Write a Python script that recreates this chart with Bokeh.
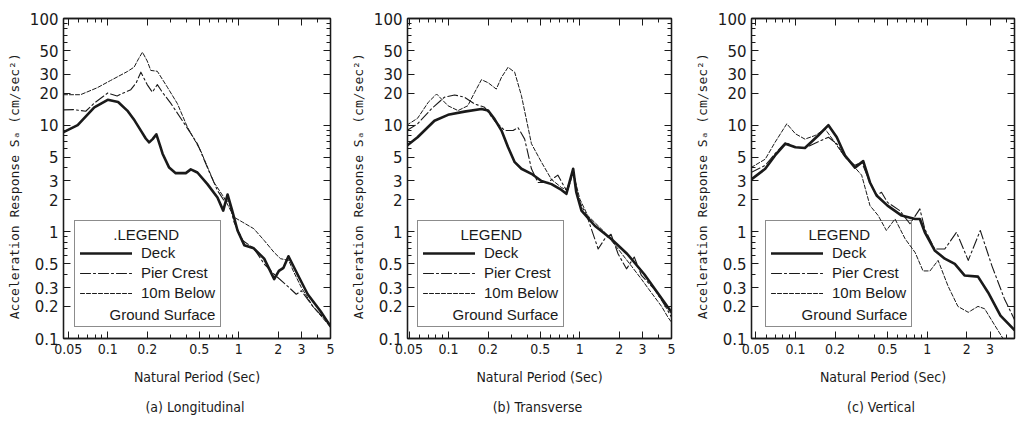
from bokeh.plotting import figure
from bokeh.layouts import row
from bokeh.models import (LogAxis, FixedTicker, CustomJSTickFormatter, Legend,
                          LegendItem, Title, Range1d, Label)
from bokeh.embed import file_html
from bokeh.resources import INLINE

# ---------------- data ----------------
series_names = ["Deck", "Pier Crest", "10m Below"]
legend_extra = "Ground Surface"

# (a) Longitudinal
a_deck_T = [0.046, 0.059, 0.079, 0.1, 0.12, 0.141, 0.16, 0.179, 0.195, 0.207, 0.22, 0.235, 0.25, 0.262,
            0.294, 0.33, 0.394, 0.43, 0.483, 0.576, 0.687, 0.76, 0.82, 0.89, 0.977, 1.1, 1.3, 1.56,
            1.86, 2.02, 2.19, 2.39, 2.8, 3.35, 4.2, 5.0]
a_deck_S = [8.6, 10.0, 14.7, 17.3, 16.5, 13.7, 11.1, 8.9, 7.5, 6.9, 7.4, 8.2, 6.5, 5.4,
            4.0, 3.55, 3.55, 3.85, 3.6, 2.8, 2.1, 1.58, 2.24, 1.58, 1.03, 0.75, 0.70, 0.56,
            0.36, 0.43, 0.46, 0.59, 0.40, 0.26, 0.18, 0.13]
a_pier_T = [0.046, 0.055, 0.068, 0.079, 0.1, 0.118, 0.15, 0.165, 0.179, 0.2, 0.219, 0.239, 0.26,
            0.303, 0.383, 0.483, 0.576, 0.687, 0.77, 0.84, 0.92, 1.07, 1.3, 1.56, 1.86, 2.35,
            2.74, 3.0, 3.7, 5.0]
a_pier_S = [13.9, 14.0, 13.5, 16.1, 20.0, 18.8, 21.5, 25.0, 31.4, 24.0, 20.4, 24.0, 20.5,
            16.0, 10.4, 6.7, 4.0, 2.44, 1.97, 1.93, 1.23, 0.83, 0.70, 0.50, 0.40, 0.31,
            0.26, 0.28, 0.197, 0.135]
a_below_T = [0.046, 0.062, 0.083, 0.105, 0.141, 0.159, 0.172, 0.184, 0.2, 0.213, 0.239, 0.285,
             0.34, 0.405, 0.51, 0.647, 0.77, 0.92, 1.07, 1.3, 1.56, 1.86, 2.08, 2.4, 2.6, 3.0,
             3.7, 5.0]
a_below_S = [19.3, 19.3, 22.4, 26.2, 31.8, 35.0, 42.0, 48.3, 40.0, 32.6, 32.0, 22.7,
             15.9, 9.6, 5.8, 2.9, 2.1, 1.37, 1.23, 1.07, 0.83, 0.64, 0.56, 0.54, 0.43, 0.30,
             0.197, 0.128]

# (b) Transverse
b_deck_T = [0.048, 0.058, 0.078, 0.099, 0.132, 0.178, 0.2, 0.224, 0.253, 0.284, 0.319, 0.359,
            0.428, 0.51, 0.608, 0.725, 0.79, 0.84, 0.89, 0.94, 1.03, 1.3, 1.73, 2.3, 3.1, 3.9, 5.0]
b_deck_S = [6.4, 7.7, 11.0, 12.5, 13.4, 14.2, 13.7, 11.4, 8.9, 6.2, 4.5, 3.9,
            3.5, 3.0, 2.8, 2.47, 2.27, 3.0, 3.9, 2.35, 1.58, 1.14, 0.86, 0.62, 0.40, 0.27, 0.176]
b_pier_T = [0.048, 0.058, 0.074, 0.093, 0.111, 0.132, 0.158, 0.188, 0.224, 0.268, 0.31, 0.338,
            0.38, 0.428, 0.48, 0.57, 0.68, 0.79, 0.84, 0.89, 0.97, 1.13, 1.3, 1.38, 1.55, 1.73,
            1.96, 2.27, 2.6, 2.95, 3.7, 4.5, 5.0]
b_pier_S = [8.9, 10.3, 14.2, 18.3, 19.2, 18.3, 15.8, 14.7, 11.0, 8.9, 8.9, 9.5,
            7.4, 3.9, 2.9, 2.9, 3.4, 2.45, 3.0, 3.9, 2.03, 1.42, 0.86, 0.69, 0.86, 0.95,
            0.62, 0.45, 0.58, 0.39, 0.29, 0.20, 0.158]
b_below_T = [0.048, 0.058, 0.07, 0.081, 0.099, 0.118, 0.14, 0.158, 0.178, 0.2, 0.231, 0.253,
             0.284, 0.319, 0.359, 0.428, 0.51, 0.608, 0.725, 0.81, 0.89, 1.0, 1.15, 1.55, 1.96,
             2.5, 2.95, 3.5, 4.2, 4.7, 5.0]
b_below_S = [10.0, 11.6, 16.4, 19.6, 15.2, 13.7, 15.2, 20.3, 26.7, 25.0, 21.8, 28.1,
             34.9, 31.3, 18.9, 6.7, 4.5, 3.1, 2.6, 2.45, 3.6, 2.03, 1.42, 0.99, 0.69,
             0.47, 0.36, 0.27, 0.20, 0.158, 0.142]

# (c) Vertical
c_deck_T = [0.046, 0.059, 0.07, 0.084, 0.1, 0.118, 0.149, 0.178, 0.206, 0.238, 0.283, 0.327,
            0.368, 0.413, 0.5, 0.64, 0.81, 0.88, 0.96, 1.14, 1.36, 1.62, 1.92, 2.43, 2.9, 3.6, 4.6]
c_deck_S = [3.08, 3.9, 5.2, 6.7, 6.2, 6.1, 8.0, 10.0, 7.7, 5.2, 4.0, 4.6,
            2.9, 2.19, 1.76, 1.42, 1.32, 1.32, 0.99, 0.67, 0.56, 0.50, 0.39, 0.38, 0.27, 0.164, 0.12]
c_pier_T = [0.046, 0.059, 0.07, 0.084, 0.1, 0.118, 0.149, 0.178, 0.206, 0.238, 0.283, 0.318,
            0.368, 0.413, 0.45, 0.5, 0.62, 0.74, 0.88, 0.96, 1.14, 1.36, 1.67, 2.05, 2.53, 3.1,
            3.86, 4.6]
c_pier_S = [3.6, 4.2, 5.4, 6.9, 6.2, 6.1, 7.0, 7.7, 6.7, 5.0, 4.2, 4.5,
            2.9, 2.2, 2.35, 1.89, 1.58, 1.19, 1.64, 1.06, 0.69, 0.69, 0.99, 0.54, 1.03, 0.48,
            0.235, 0.15]
c_below_T = [0.046, 0.059, 0.07, 0.086, 0.1, 0.118, 0.141, 0.168, 0.194, 0.238, 0.283, 0.318,
             0.368, 0.425, 0.49, 0.57, 0.68, 0.81, 0.93, 1.05, 1.21, 1.44, 1.71, 2.05, 2.43,
             2.73, 3.27, 3.86]
c_below_S = [4.0, 4.8, 6.9, 10.3, 8.3, 7.4, 8.0, 9.2, 7.2, 5.0, 4.0, 3.4,
             1.76, 1.42, 1.03, 1.32, 0.86, 0.64, 0.43, 0.43, 0.54, 0.31, 0.20, 0.176, 0.20,
             0.19, 0.132, 0.095]

x_major = [0.05, 0.1, 0.2, 0.5, 1, 2, 3, 5]
x_minor = [0.04, 0.06, 0.07, 0.08, 0.09, 0.3, 0.4, 0.6, 0.7, 0.8, 0.9, 4]
y_major = [0.1, 0.2, 0.3, 0.5, 1, 2, 3, 5, 10, 20, 30, 50, 100]
y_minor = [0.4, 0.6, 0.7, 0.8, 0.9, 4, 6, 7, 8, 9, 40, 60, 70, 80, 90]

NB = "\u00a0"
panels = [
    dict(caption="(a)  Longitudinal", legend_title=NB * 8 + ".LEGEND", xr=(0.046, 5.0), fw=267, mbr=14,
         loc=(11, 11), gs_x=46,
         data=[(a_deck_T, a_deck_S), (a_pier_T, a_pier_S), (a_below_T, a_below_S)]),
    dict(caption="(b)  Transverse", legend_title=NB * 9 + "LEGEND", xr=(0.0486, 5.0), fw=264, mbr=17,
         loc=(10, 11), gs_x=45,
         data=[(b_deck_T, b_deck_S), (b_pier_T, b_pier_S), (b_below_T, b_below_S)]),
    dict(caption="(c)  Vertical", legend_title=NB * 9 + "LEGEND", xr=(0.0464, 4.6), fw=263, mbr=2,
         loc=(14, 11), gs_x=50,
         data=[(c_deck_T, c_deck_S), (c_pier_T, c_pier_S), (c_below_T, c_below_S)]),
]

INK = "#1a1a1a"
styles = [dict(line_width=2.6, line_dash="solid"),
          dict(line_width=1.1, line_dash="10 3 2 3"),
          dict(line_width=1.0, line_dash="4 2")]

NARROW = "'Liberation Sans Narrow', 'DejaVu Sans Condensed', 'Roboto Condensed', sans-serif"
LEGFONT = "Liberation Sans"
fmt = CustomJSTickFormatter(code="return tick.toString();")
blank = CustomJSTickFormatter(code="return '';")


def style_axis(ax, major, minor, labels=True):
    ax.ticker = FixedTicker(ticks=major, minor_ticks=minor)
    ax.axis_line_color = INK
    ax.axis_line_width = 1.3
    ax.major_tick_line_color = INK
    ax.minor_tick_line_color = INK
    ax.major_tick_in = 7
    ax.major_tick_out = 0
    ax.minor_tick_in = 4
    ax.minor_tick_out = 0
    if labels:
        ax.formatter = fmt
    else:
        ax.formatter = blank
        ax.major_label_text_font_size = "0px"
        ax.major_label_standoff = 0


figs = []
for pan in panels:
    p = figure(x_axis_type="log", y_axis_type="log",
               x_range=Range1d(*pan["xr"]), y_range=Range1d(0.1, 100),
               frame_width=pan["fw"], frame_height=320,
               min_border_left=63, min_border_right=pan["mbr"],
               min_border_top=18, min_border_bottom=90,
               output_backend="svg", toolbar_location=None)
    p.grid.visible = False
    p.outline_line_color = INK
    p.outline_line_width = 1.3
    p.background_fill_color = "white"
    p.border_fill_color = "white"

    xa = p.xaxis[0]
    ya = p.yaxis[0]
    style_axis(xa, x_major, x_minor)
    style_axis(ya, y_major, y_minor)
    xa.major_label_text_font = NARROW
    xa.major_label_text_font_size = "14px"
    xa.major_label_text_color = INK
    xa.major_label_standoff = 5
    xa.axis_label = "Natural Period (Sec)"
    xa.axis_label_text_font = NARROW
    xa.axis_label_text_font_size = "14px"
    xa.axis_label_text_font_style = "normal"
    xa.axis_label_text_color = INK
    xa.axis_label_standoff = 12

    ya.major_label_text_font = "DejaVu Sans"
    ya.major_label_text_font_size = "15px"
    ya.major_label_text_color = INK
    ya.major_label_standoff = 5
    ya.axis_label = "Acceleration Response  S\u2090  (cm/sec\u00b2)"
    ya.axis_label_text_font = "DejaVu Sans Mono"
    ya.axis_label_text_font_size = "13px"
    ya.axis_label_text_font_style = "normal"
    ya.axis_label_text_color = INK
    ya.axis_label_standoff = 5

    ra = LogAxis()
    style_axis(ra, y_major, y_minor, labels=False)
    p.add_layout(ra, "right")
    ta = LogAxis()
    style_axis(ta, x_major, x_minor, labels=False)
    p.add_layout(ta, "above")

    items = []
    for name, (T, S), st in zip(series_names, pan["data"], styles):
        r = p.line(T, S, line_color=INK, line_cap="round", line_join="round", **st)
        items.append(LegendItem(label=name, renderers=[r]))
    ghost = p.line([], [], line_alpha=0)
    items.append(LegendItem(label=NB, renderers=[ghost]))

    leg = Legend(items=items, location=pan["loc"], title=pan["legend_title"])
    leg.title_text_font = LEGFONT
    leg.title_text_font_size = "15px"
    leg.title_text_font_style = "normal"
    leg.title_text_color = INK
    leg.title_standoff = 1
    leg.label_text_font = LEGFONT
    leg.label_text_font_size = "15px"
    leg.label_text_color = INK
    leg.glyph_width = 52
    leg.glyph_height = 16
    leg.label_height = 16
    leg.label_standoff = 9
    leg.spacing = 3
    leg.padding = 5
    leg.margin = 0
    leg.border_line_color = INK
    leg.border_line_width = 1.2
    leg.background_fill_color = "white"
    leg.background_fill_alpha = 0.0
    p.add_layout(leg)

    gs = Label(x=pan["gs_x"], y=24, x_units="screen", y_units="screen", text=legend_extra,
               text_font=LEGFONT, text_font_size="15px", text_color=INK,
               text_baseline="middle", text_align="left", level="overlay")
    p.add_layout(gs)

    cap = Title(text=pan["caption"], align="center", text_font=NARROW,
                text_font_size="14px", text_font_style="normal", text_color=INK, standoff=18)
    p.add_layout(cap, "below")
    figs.append(p)

layout = row(*figs, spacing=0)
open("out.html", "w").write(file_html(layout, INLINE))
